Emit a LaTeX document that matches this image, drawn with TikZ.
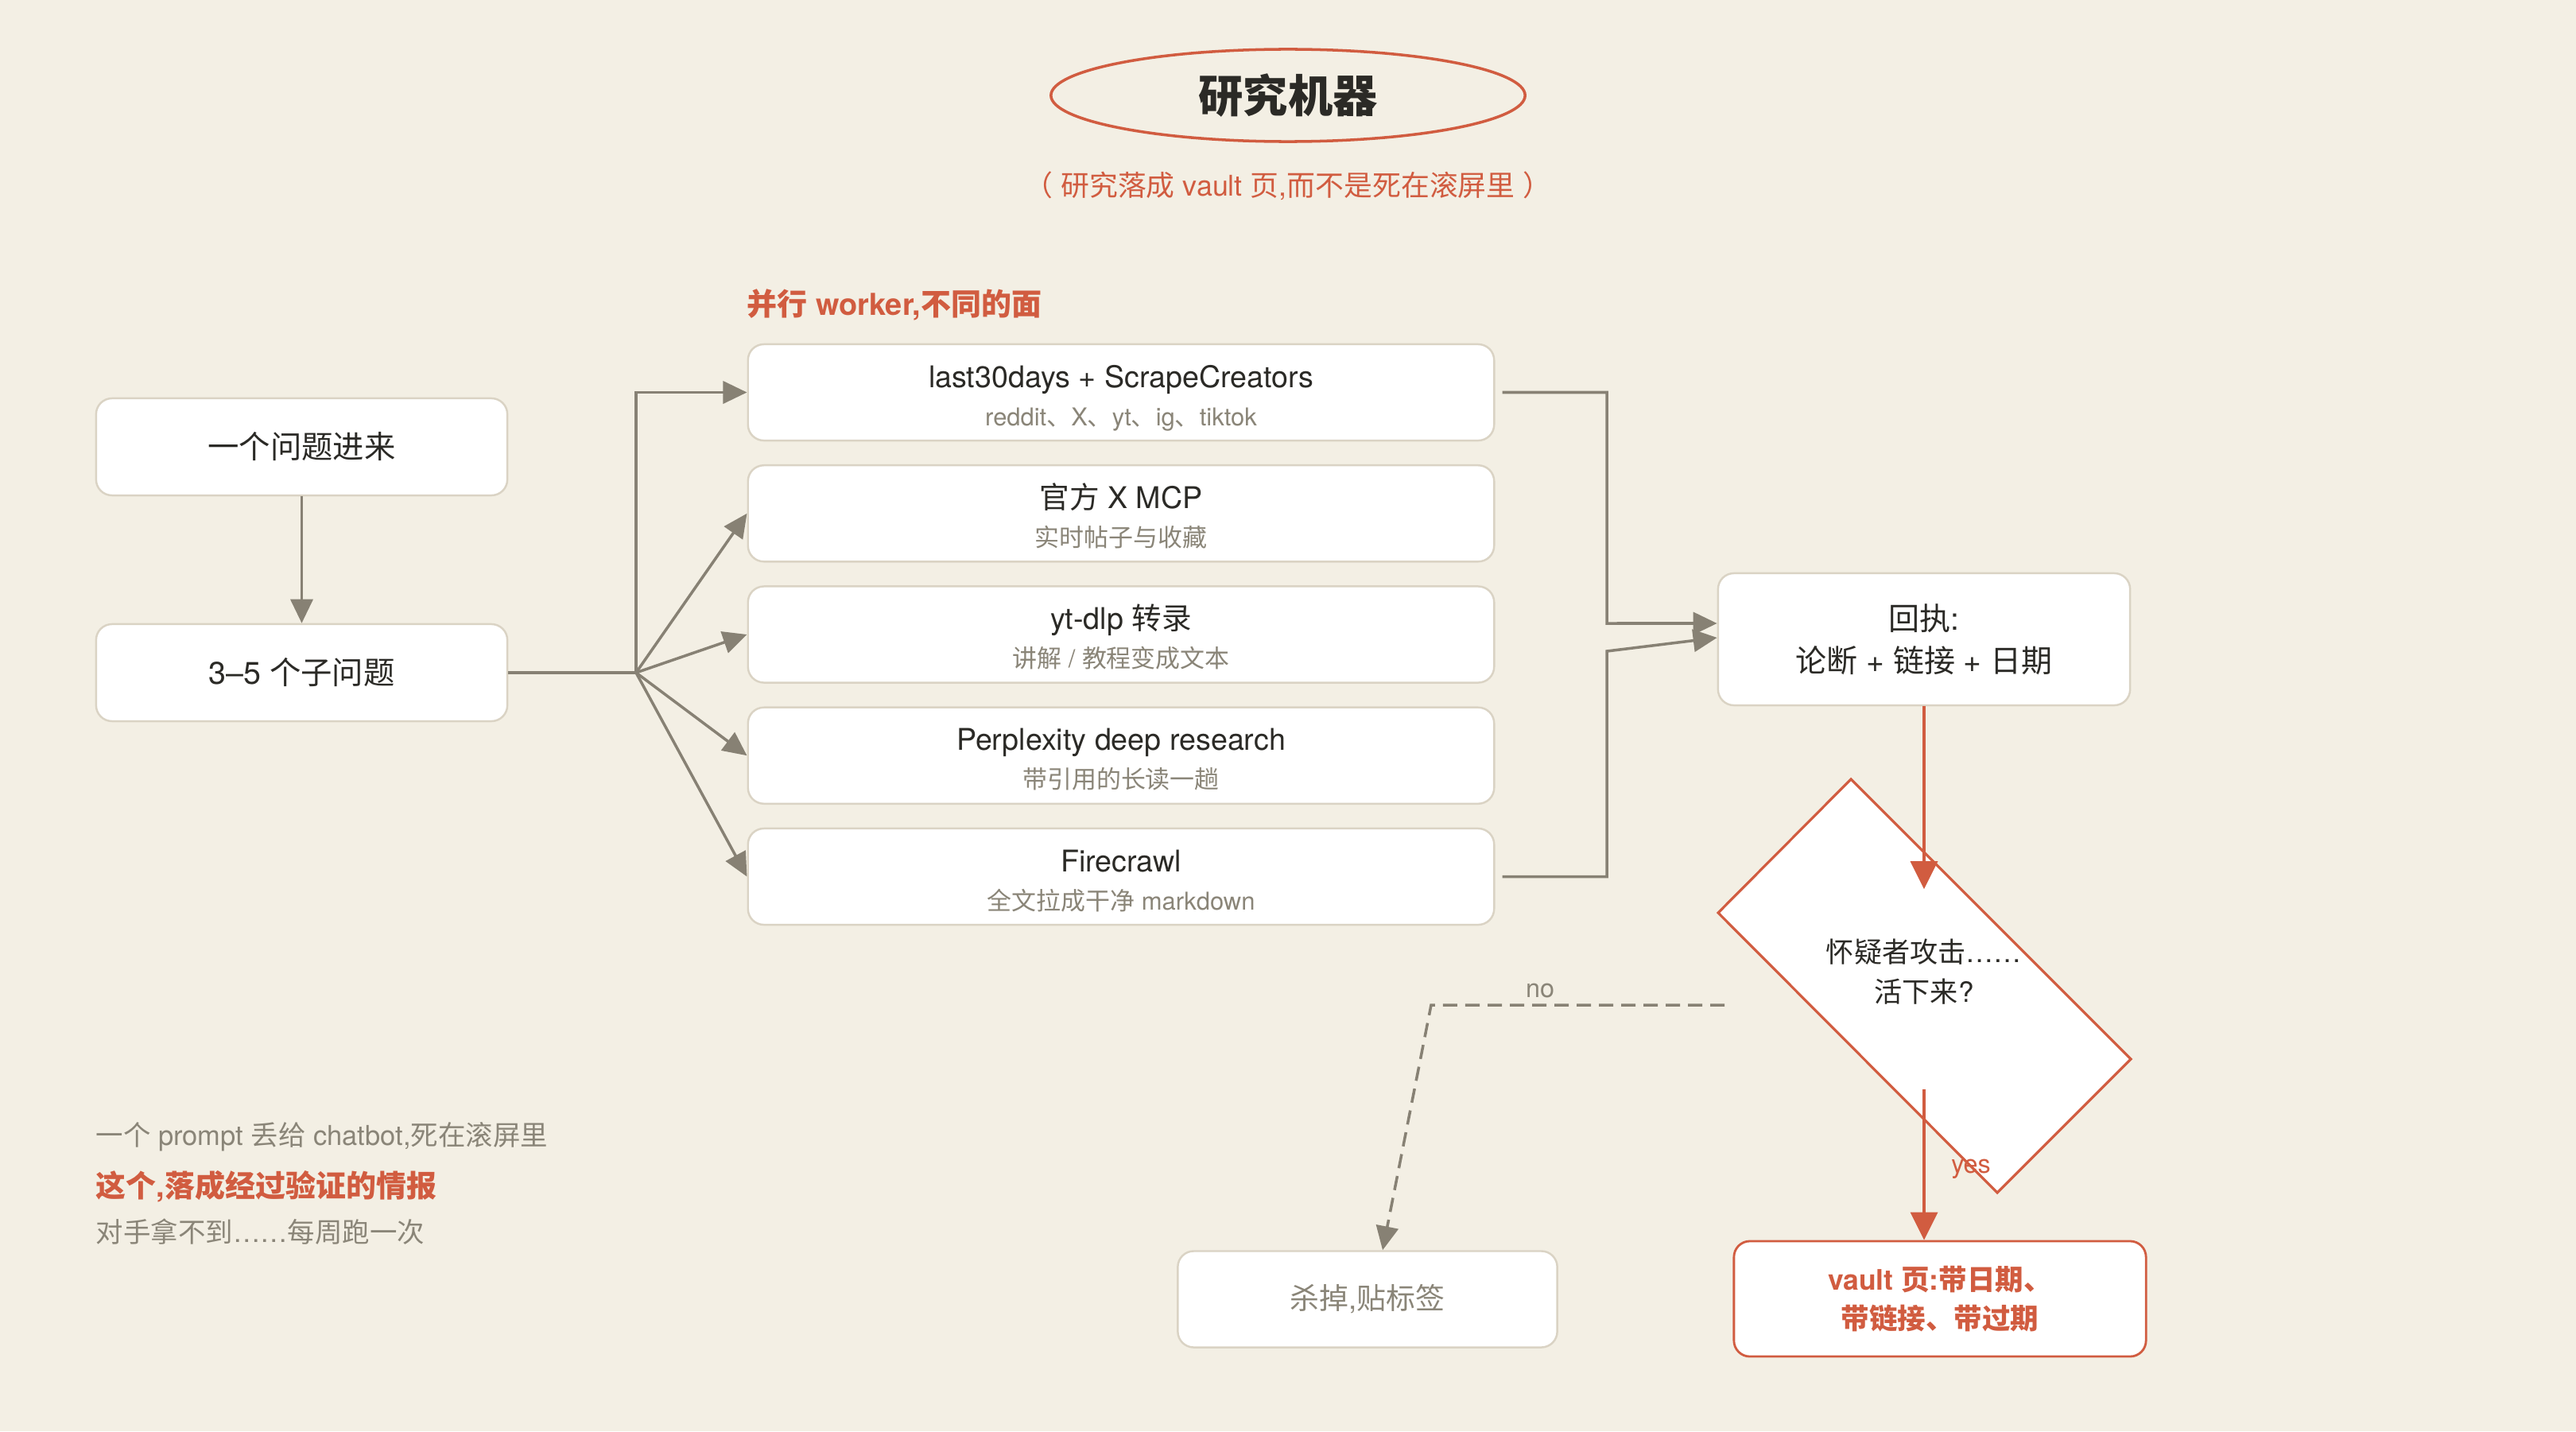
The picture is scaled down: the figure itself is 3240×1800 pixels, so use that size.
\documentclass[tikz,border=0pt]{standalone}
\usepackage{fontspec}
\setmainfont{TeX Gyre Heros}
\newfontfamily\cjkfont{Noto Sans CJK SC}
\usetikzlibrary{arrows.meta,shapes.geometric}

% automatic switch to the CJK font for CJK characters
\XeTeXinterchartokenstate=1
\newXeTeXintercharclass\cjkclass
\newcount\cjkcnt
\def\setcjkrange#1#2{\cjkcnt=#1\relax
  \loop \XeTeXcharclass\cjkcnt=\cjkclass
  \ifnum\cjkcnt<#2\relax \advance\cjkcnt by 1 \repeat}
\setcjkrange{"4E00}{"9FFF}
\setcjkrange{"3000}{"303F}
\setcjkrange{"FF00}{"FFEF}
\XeTeXinterchartoks 0 \cjkclass = {\cjkfont}
\XeTeXinterchartoks 4095 \cjkclass = {\cjkfont}
\XeTeXinterchartoks \cjkclass 0 = {\rmfamily}
\XeTeXinterchartoks \cjkclass 4095 = {\rmfamily}

\definecolor{bgc}{HTML}{F3EFE4}
\definecolor{boxline}{HTML}{DAD3C4}
\definecolor{arrc}{HTML}{878174}
\definecolor{redc}{HTML}{D15C40}
\definecolor{txt}{HTML}{2B2A26}
\definecolor{subc}{HTML}{8A8578}

\tikzset{
  box/.style={draw=boxline, line width=0.7pt, fill=white, rounded corners=0.2cm,
    inner sep=0pt, text=txt},
  wbox/.style={box, minimum width=9.38cm, minimum height=1.21cm},
  lbox/.style={box, minimum width=5.17cm, minimum height=1.22cm,
    font=\fontsize{11.2}{14}\selectfont},
  wt/.style={anchor=base, font=\fontsize{10.7}{13}\selectfont, text=txt, inner sep=0pt},
  ws/.style={anchor=base, font=\fontsize{8.8}{11}\selectfont, text=subc, inner sep=0pt},
  gline/.style={draw=arrc, line width=1pt},
  arr/.style={gline, -{Triangle[length=0.3cm,width=0.28cm]}},
  redarr/.style={draw=redc, line width=1pt, -{Triangle[length=0.35cm,width=0.34cm]}},
  note/.style={anchor=base west, inner sep=0pt, font=\fontsize{9.8}{12}\selectfont, text=subc}
}

\begin{document}
\begin{tikzpicture}[x=0.01cm, y=-0.01cm]
\useasboundingbox (0,0) rectangle (3240,1800);
\fill[bgc] (0,0) rectangle (3240,1800);

% title
\node[ellipse, draw=redc, line width=1pt, minimum width=5.96cm, minimum height=1.16cm,
  inner sep=0pt, font=\fontsize{16}{19}\selectfont\bfseries, text=txt] (title) at (1620,120) {研究机器};
\node[anchor=base, inner sep=0pt, font=\fontsize{10.2}{12}\selectfont, text=redc] (subtitle) at (1620,246)
  {（ 研究落成 vault 页,而不是死在滚屏里 ）};

% section label
\node[anchor=base west, inner sep=0pt, font=\fontsize{10.8}{13}\selectfont\bfseries, text=redc] (par) at (939,396)
  {并行 worker,不同的面};

% left boxes
\node[lbox] (q1) at (379.5,562) {一个问题进来};
\node[lbox] (q2) at (379.5,846) {3–5 个子问题};

% worker boxes
\node[wbox] (w1) at (1410,493.5) {};
\node[wt] (w1t) at (1410,487) {last30days + ScrapeCreators};
\node[ws] (w1s) at (1410,535) {reddit、X、yt、ig、tiktok};

\node[wbox] (w2) at (1410,645.75) {};
\node[wt] (w2t) at (1410,639.25) {官方 X MCP};
\node[ws] (w2s) at (1410,687.25) {实时帖子与收藏};

\node[wbox] (w3) at (1410,798) {};
\node[wt] (w3t) at (1410,791.5) {yt-dlp 转录};
\node[ws] (w3s) at (1410,839.5) {讲解 / 教程变成文本};

\node[wbox] (w4) at (1410,950.25) {};
\node[wt] (w4t) at (1410,943.75) {Perplexity deep research};
\node[ws] (w4s) at (1410,991.75) {带引用的长读一趟};

\node[wbox] (w5) at (1410,1102.5) {};
\node[wt] (w5t) at (1410,1096) {Firecrawl};
\node[ws] (w5s) at (1410,1144) {全文拉成干净 markdown};

% result box
\node[box, minimum width=5.18cm, minimum height=1.66cm, align=center,
  font=\fontsize{11.1}{15}\selectfont] (res) at (2420,804) {回执:\\论断 + 链接 + 日期};

% decision
\node[minimum width=5cm, minimum height=2.5cm, inner sep=0pt] (dec) at (2420,1244) {};
\draw[draw=redc, line width=0.9pt, fill=white] (2328,980) -- (2680,1332) -- (2512,1500) -- (2161,1148) -- cycle;
\node[align=center, inner sep=0pt, font=\fontsize{10}{14.2}\selectfont, text=txt] (dect) at (2420,1222)
  {怀疑者攻击……\\活下来?};

% outcome boxes
\node[box, draw=redc, line width=0.8pt, minimum width=5.18cm, minimum height=1.45cm, align=center,
  font=\fontsize{10.1}{13.7}\selectfont\bfseries, text=redc] (vault) at (2440,1633.5)
  {vault 页:带日期、\\带链接、带过期};
\node[box, minimum width=4.77cm, minimum height=1.21cm, font=\fontsize{10.5}{13}\selectfont,
  text=subc] (kill) at (1720,1634) {杀掉,贴标签};

% notes
\node[note] (n1) at (120,1440) {一个 prompt 丢给 chatbot,死在滚屏里};
\node[note, font=\fontsize{10.8}{13}\selectfont\bfseries, text=redc] (n2) at (120,1505) {这个,落成经过验证的情报};
\node[note] (n3) at (120,1562) {对手拿不到……每周跑一次};

% connectors
\draw[arr] (q1.south) -- (q2.north);
\coordinate (j) at (800,846);
\draw[gline] (q2.east) -- (j);
\draw[arr] (j) |- (w1.west);
\foreach \w in {w2,w3,w4,w5} \draw[arr] (j) -- (\w.west);

\coordinate (m1) at (2021,784);
\coordinate (m2) at (2021,819);
\draw[arr, shorten <=0.09cm] (w1.east) -| (m1) -- ([yshift=0.2cm]res.west);
\draw[arr, shorten <=0.09cm] (w5.east) -| (m2) -- ([yshift=0.02cm]res.west);

\draw[redarr] (res.south) -- (dec.north);
\draw[redarr] (dec.south) -- (dec.south |- vault.north);
\node[inner sep=0pt, font=\fontsize{9.2}{11}\selectfont, text=redc] (yes) at (2479,1470) {yes};

\coordinate (nb) at (1800,1264);
\draw[arr, dash pattern=on 0.18cm off 0.1cm] ([yshift=-0.2cm]dec.west) -- (nb) -- ([xshift=0.19cm]kill.north);
\node[inner sep=0pt, font=\fontsize{9.2}{11}\selectfont, text=subc] (no) at (1937,1246) {no};
\end{tikzpicture}
\end{document}
